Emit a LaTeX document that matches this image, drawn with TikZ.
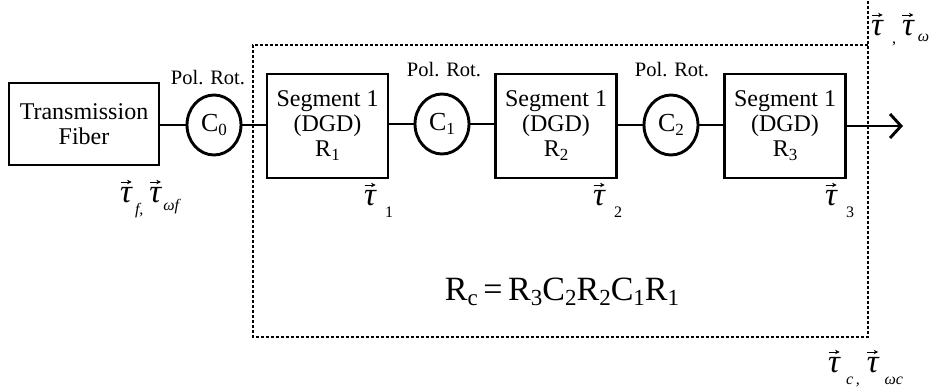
\documentclass[tikz,border=0pt]{standalone}
\usepackage{fontspec}
\setmainfont{Liberation Serif}
\usetikzlibrary{arrows.meta,shapes.geometric}
\newcommand\varr{\tikz[baseline=0pt,x=1pt,y=1pt]{\draw[line width=1pt,-{Stealth[length=4.5pt,width=4.5pt]}] (0,0) -- (11,0);}}
\newcommand\vtau{\setbox0\hbox{\itshape τ}\rlap{\raisebox{20pt}{\hbox to \wd0{\hss\varr\hss}}}\box0}
\newcommand\lsub[1]{\raisebox{-12pt}{\fontsize{16}{16}\selectfont #1}}
\newcommand\ssub[1]{\raisebox{-4pt}{\fontsize{17}{17}\selectfont #1}}
\newcommand\bsub[1]{\raisebox{-5pt}{\fontsize{23}{23}\selectfont #1}}
\begin{document}
\begin{tikzpicture}[x=1pt,y=-1pt,
  blk/.style={draw,line width=2.9pt,align=center,inner sep=0pt,
    font=\fontsize{24}{25}\selectfont},
  segbox/.style={blk,minimum width=121pt,minimum height=104pt},
  rot/.style={draw,ellipse,line width=2.9pt,minimum width=54pt,minimum height=60pt,inner sep=0pt,
    font=\fontsize{26}{26}\selectfont},
  lbl/.style={font=\fontsize{20.5}{21}\selectfont,inner sep=0pt},
  tlab/.style={font=\fontsize{33}{33}\selectfont,inner sep=0pt,anchor=base west},
  conn/.style={line width=2.9pt},
  dots/.style={line width=2.8pt,dash pattern=on 2.6pt off 2.4pt}]
\useasboundingbox (0,0) rectangle (937,388);
% dotted enclosure
\coordinate (dtl) at (253,45);
\coordinate (dbl) at (253,337);
\coordinate (dbr) at (868,337);
\coordinate (dtr) at (868,0);
\coordinate (dtm) at (868,45);
\draw[dots] (dtm) -- (dtl) -- (dbl) -- (dbr) -- (dtr);
% blocks
\node[blk,minimum width=150pt,minimum height=82pt] (tf) at (84,124) {Transmission\\Fiber};
\node[rot] (c0) at (214,125) {C\ssub{0}};
\node[segbox] (r1) at (327.5,126) {Segment 1\\(DGD)\\R\ssub{1}};
\node[rot] (c1) at (442,124) {C\ssub{1}};
\node[segbox] (r2) at (556,126) {Segment 1\\(DGD)\\R\ssub{2}};
\node[rot] (c2) at (671,125) {C\ssub{2}};
\node[segbox] (r3) at (785,126) {Segment 1\\(DGD)\\R\ssub{3}};
\coordinate (out) at (903,126);
% labels
\node[lbl] (p0) at (208,78) {Pol. Rot.};
\node[lbl] (p1) at (444,70) {Pol. Rot.};
\node[lbl] (p2) at (672,70) {Pol. Rot.};
% connectors
\draw[conn] (tf.east |- c0) -- (c0.west);
\draw[conn] (c0.east) -- (r1.west |- c0);
\draw[conn] (r1.east |- c1) -- (c1.west);
\draw[conn] (c1.east) -- (r2.west |- c1);
\draw[conn] (r2.east |- c2) -- (c2.west);
\draw[conn] (c2.east) -- (r3.west |- c2);
\draw[conn,-{Straight Barb[length=11pt,width=24pt,line width=2.9pt]}] (r3.east) -- (out);
% tau labels
\node[tlab] (tauf) at (120,202) {\vtau\hspace{3pt}\lsub{\itshape f,}\hspace{6pt}\vtau\hspace{2pt}\raisebox{-8pt}{\fontsize{16}{16}\selectfont\itshape ωf}};
\node[tlab] (tau1) at (364,205) {\vtau\hspace{9pt}\lsub{1}};
\node[tlab] (tau2) at (593,205) {\vtau\hspace{9pt}\lsub{2}};
\node[tlab] (tau3) at (825,205) {\vtau\hspace{9pt}\lsub{3}};
\node[tlab] (tautop) at (871,35) {\vtau\hspace{9pt}\raisebox{-8pt}{\fontsize{16}{16}\selectfont ,}\hspace{6pt}\vtau\hspace{4pt}\raisebox{-6pt}{\fontsize{16}{16}\selectfont\itshape ω}};
\node[tlab] (tauc) at (828,372) {\vtau\hspace{6pt}\lsub{\itshape c\,,}\hspace{7pt}\vtau\hspace{6pt}\lsub{\itshape ωc}};
% equation
\node[inner sep=0pt,font=\fontsize{34}{34}\selectfont] (eq) at (562,292)
  {R\bsub{c}\,=\,R\bsub{3}C\bsub{2}R\bsub{2}C\bsub{1}R\bsub{1}};
\end{tikzpicture}
\end{document}
